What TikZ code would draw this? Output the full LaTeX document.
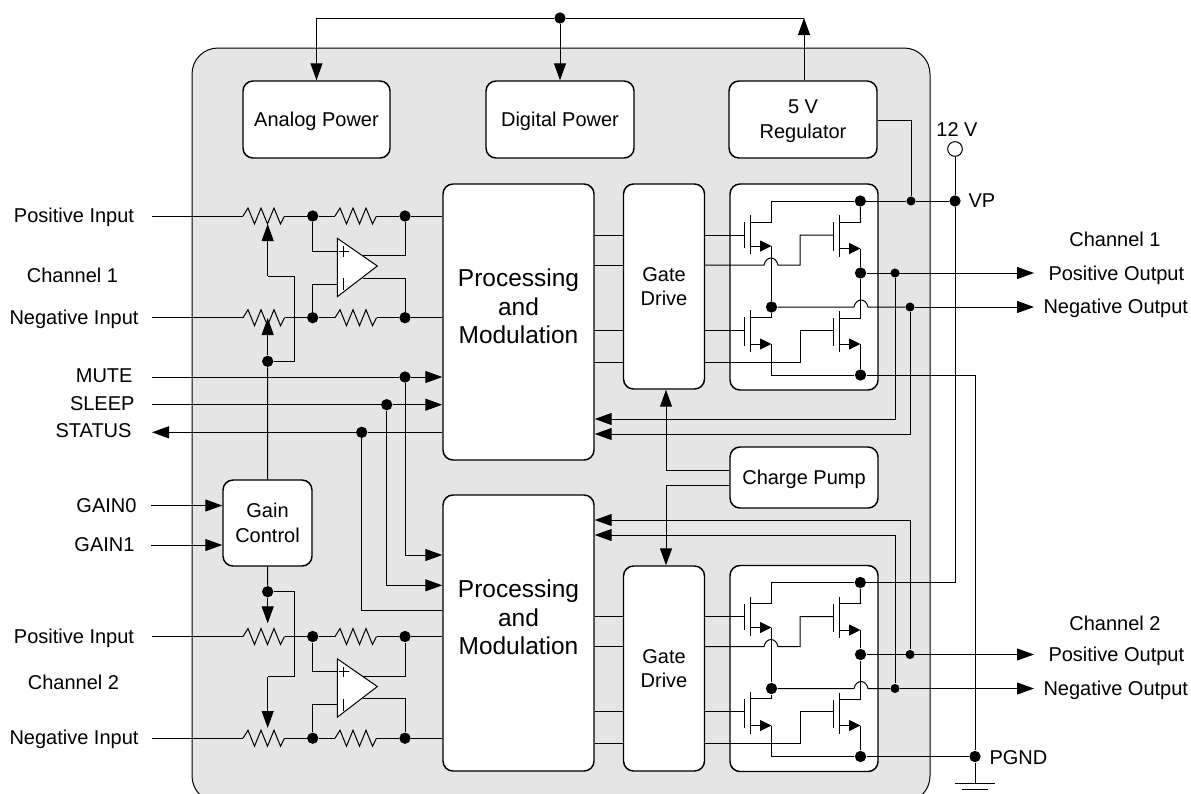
\documentclass[tikz,border=0pt]{standalone}
\usepackage{fontspec}
\setmainfont{Liberation Sans}
\usetikzlibrary{arrows.meta}
\newcommand{\zigres}[2]{\draw (#1,#2) -- ++(5,-8) -- ++(6.5,16) -- ++(6.5,-16) -- ++(6.5,16) -- ++(6.5,-16) -- ++(6.5,16) -- ++(4,-8);}
\newcommand{\fet}[5]{
  \draw (#1,#2) -- (#1,#4+2);
  \draw (#1+6.5,#2-7) -- (#1+6.5,#4+8);
  \draw (#1+6.5,#2) -- (#5,#2);
  \draw[fettip] (#1+6.5,#4) -- (#5,#4);
}
\tikzset{
  blk/.style 2 args={draw,fill=white,rounded corners=7.5pt,line width=1.1pt,align=center,
    inner sep=0pt,text depth=0pt,minimum width=#1*.75pt,minimum height=#2*.75pt},
  jdot/.style={circle,fill=black,inner sep=0pt,minimum size=8.5pt},
  jsmall/.style={circle,fill=black,inner sep=0pt,minimum size=6.8pt},
  inlab/.style={inner sep=0pt,text depth=1pt,minimum width=115.5pt},
  ctllab/.style={anchor=east,inner ysep=0pt,inner xsep=#1*.75pt},
  outlab/.style={anchor=west,inner ysep=0pt,text depth=1pt,inner xsep=#1*.75pt},
  plain/.style={inner sep=0pt},
  bigtext/.style={inner sep=0pt,align=center,font=\fontsize{18.35}{21.4}\selectfont},
  fettip/.style={-{Triangle[length=8.6pt,width=8.2pt]}},
}
\definecolor{chipgray}{HTML}{E5E5E5}
\begin{document}
\begin{tikzpicture}[x=.75pt,y=-.75pt,line width=.75pt,>={Triangle[length=12.75pt,width=9pt]},
  every node/.style={font=\fontsize{15}{18.75}\selectfont}]
\useasboundingbox (0,0) rectangle (1191,793);
\draw[fill=chipgray,rounded corners=19.5pt] (192,48) rectangle (930,802);
\node[blk={147}{77}] (analog) at (316.5,119.5) {Analog Power};
\node[blk={148}{77}] (digital) at (560,119.5) {Digital Power};
\node[blk={148}{77}] (regul) at (803,119.5) {5 V\\Regulator};
\node[blk={148}{61}] (pump) at (804,477.5) {Charge Pump};
\node[blk={89}{86}] (gain) at (267.5,523) {Gain\\Control};
\foreach \c/\yp/\yg/\yo in {A/322/286.5/287,B/633/668.5/668.5} {
  \node[blk={151}{276}] (proc\c) at (518.5,\yp) {};
  \node[bigtext] (ptext\c) at (518.5,\yp-15.5) {Processing\\and\\Modulation};
  \node[blk={81}{205}] (gate\c) at (664,\yg) {Gate\\[-1pt]Drive};
  \node[blk={148}{206}] (out\c) at (804,\yo) {};
}
\node[jdot] (top) at (560,18) {};
\coordinate (regtip) at (804,18);
\draw[->] (top) -- (top -| analog) -- (analog.north);
\draw[->] (top) -- (digital.north);
\draw[->] (regul.north -| regtip) -- (regtip);
\draw (regtip) -- (top);
\foreach \c/\d in {A/0,B/420.5} {
  \begin{scope}[shift={(0,\d)}]
    \node[inlab] (ip\c) at (74,216) {Positive Input};
    \node[inlab] (im\c) at (74,317.7) {Negative Input};
    \node[jdot] (fp\c) at (312.7,216) {};
    \node[jdot] (rp\c) at (405,216) {};
    \node[jdot] (fm\c) at (312.7,317.7) {};
    \node[jdot] (rm\c) at (405,317.7) {};
    \draw (ip\c) -- (243,216);
    \draw (im\c) -- (243,317.7);
    \zigres{243}{216}
    \zigres{243}{317.7}
    \zigres{335}{216}
    \zigres{335}{317.7}
    \draw (285,216) -- (fp\c) -- (335,216);
    \draw (285,317.7) -- (fm\c) -- (335,317.7);
    \draw (377,216) -- (rp\c) -- (proc\c.west |- rp\c);
    \draw (377,317.7) -- (rm\c) -- (proc\c.west |- rm\c);
    \draw (fp\c) |- (337.3,251);
    \draw (fm\c) |- (337.3,284);
    \draw (rp\c) |- (363,255.7);
    \draw (rm\c) |- (363,278);
    \draw[fill=white] (337.3,238.3) -- (337.3,296.7) -- (377.3,266) -- cycle;
    \draw (339,251.3) -- (349,251.3);
    \draw (343.7,246) -- (343.7,256.5);
    \draw (343.7,278) -- (343.7,290);
  \end{scope}
}
\node[jdot] (ga) at (267.7,361.3) {};
\node[jdot] (gb) at (267.7,591.7) {};
\draw (gain.north) -- (ga);
\draw[->] (ga) -- (267.7,318);
\draw (ga) -- (294.7,361.3) -- (294.7,276) -- (267.7,276);
\draw[->] (267.7,276) -- (267.7,224);
\draw (gain.south) -- (gb);
\draw[->] (gb) -- (267.7,623.3);
\draw (gb) -- (294.7,591.7) -- (294.7,676.7) -- (267.7,676.7);
\draw[->] (267.7,676.7) -- (267.7,728);
\node[plain] (ch1) at (72.5,275.5) {Channel 1};
\node[plain] (ch2) at (73.5,682.5) {Channel 2};
\node[ctllab=18.5] (mute) at (151.5,376) {MUTE};
\node[ctllab=16.5] (sleep) at (151.5,403.7) {SLEEP};
\node[ctllab=20] (status) at (152,431) {STATUS};
\node[ctllab=14] (gain0) at (151,505.5) {GAIN0};
\node[ctllab=16] (gain1) at (151,545) {GAIN1};
\node[jdot] (mutej) at (405,377) {};
\node[jdot] (sleepj) at (386.7,404.7) {};
\node[jdot] (statj) at (361.7,432.3) {};
\draw[->] (mute.east |- mutej) -- (mutej) -- (procA.west |- mutej);
\draw[->] (sleep.east |- sleepj) -- (sleepj) -- (procA.west |- sleepj);
\draw[->] (procA.west |- statj) -- (statj) -- (status.east |- statj);
\draw[->] (mutej) |- (procB.west |- 0,555);
\draw[->] (sleepj) |- (procB.west |- 0,585.3);
\draw (statj) |- (procB.west |- 0,610.7);
\draw[->] (gain0.east) -- (gain.west |- gain0);
\draw[->] (gain1.east) -- (gain.west |- gain1);
\foreach \c/\d/\p/\n in {A/0/895/910,B/381.5/910/895} {
  \begin{scope}[shift={(0,\d)}]
    \node[jdot] (vp\c) at (860.3,201) {};
    \node[jdot] (mid\c) at (860.5,273) {};
    \node[jdot] (neg\c) at (771.5,307) {};
    \node[jdot] (gnd\c) at (860.5,375) {};
    \node[jsmall] (pos\c) at (\p,273) {};
    \node[jsmall] (nn\c) at (\n,307) {};
    \fet{744}{222}{235}{246}{771.5}
    \fet{833}{222}{235}{248.5}{860.5}
    \fet{744}{317}{330}{344}{771.5}
    \fet{833}{318}{330}{344}{860.5}
    \draw (vp\c) -- (771.5,201) -- (771.5,222);
    \draw (vp\c) -- (860.5,222);
    \draw (771.5,246) -- (neg\c) -- (771.5,317);
    \draw (771.5,344) |- (gnd\c);
    \draw (860.5,248.5) -- (mid\c) -- (860.5,318);
    \draw (860.5,344) -- (gnd\c);
    \foreach \y in {235,265,330,362}
      \draw (proc\c.east |- 0,\y) -- (gate\c.west |- 0,\y);
    \draw (gate\c.east |- 0,235) -- (744,235);
    \draw (gate\c.east |- 0,265) -- (764,265) .. controls (766,255.7) and (776,255.7) .. (778,265) -- (800,265) -- (800,235) -- (833,235);
    \draw (gate\c.east |- 0,330) -- (744,330);
    \draw (gate\c.east |- 0,362) -- (800,362) -- (800,330) -- (833,330);
    \node[outlab=14] (po\c) at (1034,273.5) {Positive Output};
    \node[outlab=9] (no\c) at (1034,307) {Negative Output};
    \draw[->] (mid\c) -- (po\c.west |- mid\c);
    \draw (neg\c) -- (854,307) .. controls (856,297.7) and (866,297.7) .. (868,307) -- (nn\c);
    \draw[->] (nn\c) -- (no\c.west |- nn\c);
  \end{scope}
}
\node[plain] (ch1o) at (1115,239) {Channel 1};
\node[plain] (ch2o) at (1115,623) {Channel 2};
\draw[->] (posA) |- (procA.east |- 0,419);
\draw[->] (nnA) |- (procA.east |- 0,434);
\draw[->] (posB) |- (procB.east |- 0,520);
\draw[->] (nnB) |- (procB.east |- 0,535);
\draw[->] (pump.west |- 0,470) -- (666,470) -- (gateA.south -| 666,0);
\draw[->] (pump.west |- 0,485) -- (666,485) -- (gateB.north -| 666,0);
\node[jsmall] (vreg) at (911,201) {};
\node[jdot] (vpj) at (955,201) {};
\node[plain,anchor=west] (vplab) at (968,201) {VP};
\node[plain] (v12) at (957,130) {12 V};
\node[circle,draw,fill=white,inner sep=0pt,minimum size=11pt] (vcc) at (955,149) {};
\draw (regul.east |- 0,120) -| (vreg);
\draw (vpA) -- (vreg) -- (vpj);
\draw (vcc) -- (vpj) |- (vpB);
\node[jdot] (pgnd) at (975,756.5) {};
\node[plain,anchor=west] (pgndlab) at (989,757.5) {PGND};
\coordinate (gr) at (975,783);
\draw (gndA) -| (pgnd);
\draw (gndB) -- (pgnd) -- (gr);
\draw (955,783) -- (995,783);
\draw (962,789) -- (988,789);
\end{tikzpicture}
\end{document}
